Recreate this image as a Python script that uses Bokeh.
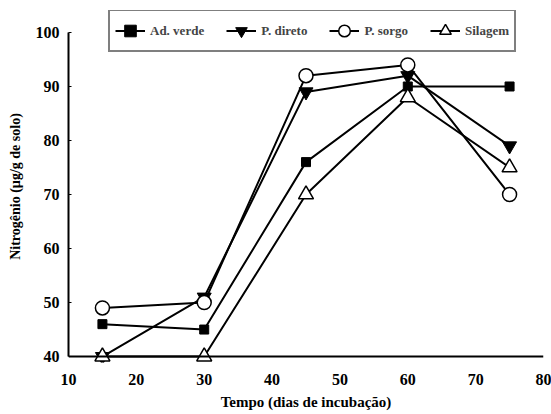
from bokeh.plotting import figure
from bokeh.models import Range1d, Span, Legend, LegendItem
from bokeh.embed import file_html
from bokeh.resources import INLINE

# Data
dias = [15, 30, 45, 60, 75]
ad_verde = [46, 45, 76, 90, 90]
p_direto = [40, 51, 89, 92, 79]
p_sorgo = [49, 50, 92, 94, 70]
silagem = [40, 40, 70, 88, 75]

x_ticks = [10, 20, 30, 40, 50, 60, 70, 80]
y_ticks = [40, 50, 60, 70, 80, 90, 100]

FONT = "Liberation Serif"

p = figure(width=551, height=414, output_backend="svg", toolbar_location=None,
           x_range=Range1d(10, 80), y_range=Range1d(38.9, 104.07),
           min_border_left=68, min_border_right=8, min_border_top=10,
           min_border_bottom=52)
p.grid.visible = False
p.outline_line_color = None
p.background_fill_color = "white"
p.border_fill_color = "white"

# x axis
xa = p.xaxis[0]
xa.ticker = x_ticks
xa.axis_line_color = None
xa.major_tick_line_color = None
xa.minor_tick_line_color = None
xa.major_tick_in = 0
xa.major_tick_out = 0
xa.major_label_standoff = 11
xa.major_label_text_font = FONT
xa.major_label_text_font_style = "bold"
xa.major_label_text_font_size = "16px"
xa.major_label_text_color = "black"
xa.axis_label = "Tempo (dias de incubação)"
xa.axis_label_text_font = FONT
xa.axis_label_text_font_style = "bold"
xa.axis_label_text_font_size = "15px"
xa.axis_label_text_color = "black"
xa.axis_label_standoff = 6

# y axis
ya = p.yaxis[0]
ya.ticker = y_ticks
ya.bounds = (40, 100)
ya.axis_line_width = 2
ya.axis_line_color = "black"
ya.major_tick_in = 3
ya.major_tick_out = 0
ya.major_tick_line_color = "black"
ya.minor_tick_line_color = None
ya.major_label_standoff = 9
ya.major_label_text_font = FONT
ya.major_label_text_font_style = "bold"
ya.major_label_text_font_size = "16px"
ya.major_label_text_color = "black"
ya.axis_label = "Nitrogênio (µg/g de solo)"
ya.axis_label_text_font = FONT
ya.axis_label_text_font_style = "bold"
ya.axis_label_text_font_size = "14px"
ya.axis_label_text_color = "black"
ya.axis_label_standoff = 10

# baseline at y = 40
p.add_layout(Span(location=y_ticks[0], dimension="width", line_color="black", line_width=2))

LW = 2
l1 = p.line(dias, ad_verde, line_color="black", line_width=LW)
m1 = p.scatter(dias, ad_verde, marker="square", size=9, fill_color="black", line_color="black")

l2 = p.line(dias, p_direto, line_color="black", line_width=LW)
m2 = p.scatter(dias, p_direto, marker="inverted_triangle", size=14, fill_color="black", line_color="black")

l3 = p.line(dias, p_sorgo, line_color="black", line_width=LW)
m3 = p.scatter(dias, p_sorgo, marker="circle", size=14, fill_color="white", line_color="black", line_width=1.5)

l4 = p.line(dias, silagem, line_color="black", line_width=LW)
m4 = p.scatter(dias, silagem, marker="triangle", size=15, fill_color="white", line_color="black", line_width=1.5)

legend = Legend(items=[
    LegendItem(label="Ad. verde", renderers=[l1, m1]),
    LegendItem(label="P. direto", renderers=[l2, m2]),
    LegendItem(label="P. sorgo", renderers=[l3, m3]),
    LegendItem(label="Silagem", renderers=[l4, m4]),
], orientation="horizontal", location=(40, 310))
legend.border_line_color = "black"
legend.border_line_width = 2
legend.background_fill_color = "white"
legend.background_fill_alpha = 1.0
legend.label_text_font = FONT
legend.label_text_font_style = "bold"
legend.label_text_font_size = "13px"
legend.glyph_width = 30
legend.glyph_height = 29
legend.label_height = 20
legend.label_standoff = 5
legend.spacing = 22
legend.padding = 5
legend.margin = 0
p.add_layout(legend)

open("out.html", "w").write(file_html(p, INLINE))
